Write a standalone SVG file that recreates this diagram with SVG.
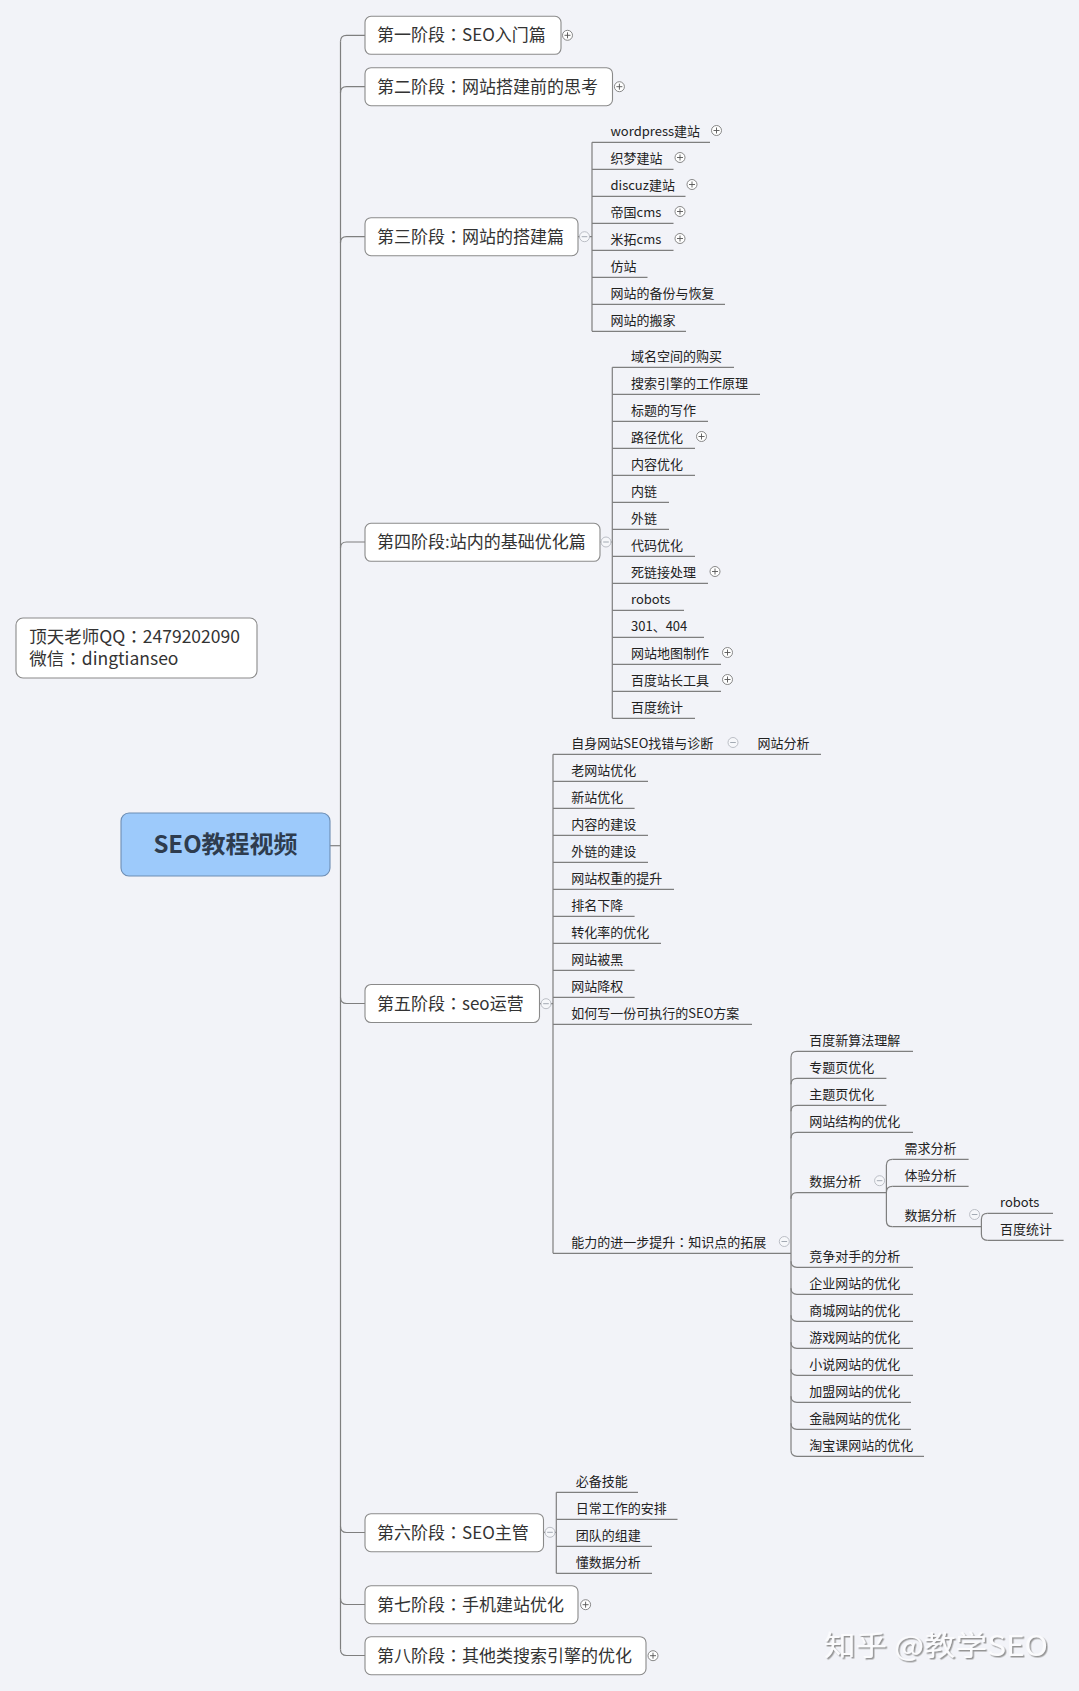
<svg xmlns="http://www.w3.org/2000/svg" width="1079" height="1691" viewBox="0 0 1079 1691">
<style>
.bg{fill:#f2f3f8}
.box{fill:#fff;stroke:#8a8a8a;stroke-width:1.1}
.ln{fill:none;stroke:#7f7f7f;stroke-width:1.2}
.ul{fill:none;stroke:#7f7f7f;stroke-width:1.2}
text{font-family:"Noto Sans CJK SC","Microsoft YaHei","Noto Sans",sans-serif}
.c{font-family:"Noto Sans CJK JP","Noto Sans CJK SC",sans-serif}
.t17{font-size:17px;fill:#333}
.t13{font-size:13px;fill:#222}
.root{font-size:24px;font-weight:bold;fill:#2e3c4e}
.wm{font-size:28px;fill:#fbfbfd}
</style>
<defs>
<g id="plus"><circle r="5" fill="#fff" stroke="#7a7a7a" stroke-width="0.9"/><path d="M-3,0H3M0,-3V3" stroke="#555" stroke-width="0.9"/></g>
<g id="minus"><circle r="5" fill="#f6f7fa" stroke="#b4b8c0" stroke-width="0.9"/><path d="M-2.8,0H2.8" stroke="#9aa0aa" stroke-width="0.9"/></g>
<filter id="sh" x="-10%" y="-20%" width="130%" height="160%"><feDropShadow dx="1.5" dy="1.5" stdDeviation="0.6" flood-color="#8a8a8a" flood-opacity="0.9"/></filter>
</defs>
<rect class="bg" x="0" y="0" width="1079" height="1691"/>

<g id="connectors">
<path class="ln" d="M340.5,41.3V1649.5"/>
<path class="ln" d="M340.5,41.3Q340.5,35.3 346.5,35.3H365"/>
<path class="ln" d="M340.5,92.7Q340.5,86.7 346.5,86.7H365"/>
<path class="ln" d="M340.5,242.7Q340.5,236.7 346.5,236.7H365"/>
<path class="ln" d="M340.5,548Q340.5,542 346.5,542H365"/>
<path class="ln" d="M340.5,997.5Q340.5,1003.5 346.5,1003.5H365"/>
<path class="ln" d="M340.5,1526.5Q340.5,1532.5 346.5,1532.5H365"/>
<path class="ln" d="M340.5,1598.5Q340.5,1604.5 346.5,1604.5H365"/>
<path class="ln" d="M340.5,1649.5Q340.5,1655.5 346.5,1655.5H365"/>
<path class="ln" d="M330,845.7H340.5"/>
<path class="ln" d="M578,236.7H592M592,142.3V331.3"/>
<path class="ln" d="M600,542H612.3M612.3,367.3V718.3"/>
<path class="ln" d="M539.5,1003.7H553M553,754.3V1253.3"/>
<path class="ln" d="M791,1057.3V1450.3"/>
<path class="ln" d="M791,1057.3Q791,1051.3 797,1051.3M791,1084.3Q791,1078.3 797,1078.3M791,1111.3Q791,1105.3 797,1105.3M791,1138.3Q791,1132.3 797,1132.3M791,1198.7Q791,1192.7 797,1192.7"/>
<path class="ln" d="M791,1261.3Q791,1267.3 797,1267.3M791,1288.3Q791,1294.3 797,1294.3M791,1315.3Q791,1321.3 797,1321.3M791,1342.3Q791,1348.3 797,1348.3M791,1369.3Q791,1375.3 797,1375.3M791,1396.3Q791,1402.3 797,1402.3M791,1423.3Q791,1429.3 797,1429.3M791,1450.3Q791,1456.3 797,1456.3"/>
<path class="ln" d="M886.4,1165.3V1220.7M886.4,1165.3Q886.4,1159.3 892.4,1159.3M886.4,1192.3Q886.4,1186.3 892.4,1186.3M886.4,1220.7Q886.4,1226.7 892.4,1226.7"/>
<path class="ln" d="M981.4,1219.3V1234.3M981.4,1219.3Q981.4,1213.3 987.4,1213.3M981.4,1234.3Q981.4,1240.3 987.4,1240.3"/>
<path class="ln" d="M543.5,1532.3H556.3M556.3,1492.3V1573.3"/>
</g>

<g id="root">
<rect x="121" y="813" width="209" height="63" rx="8" fill="#9dcafb" stroke="#6d8db3" stroke-width="1.1"/>
<text class="root" x="225.5" y="853" text-anchor="middle">SEO教程视频</text>
</g>

<g id="note">
<rect class="box" x="16" y="618" width="241" height="60" rx="7"/>
<text class="t17" x="29.3" y="643" style="font-size:17.5px">顶天老师QQ<tspan class="c">：</tspan>2479202090</text>
<text class="t17" x="29.3" y="665" style="font-size:17.5px">微信<tspan class="c">：</tspan>dingtianseo</text>
</g>

<g id="stage1"><rect class="box" x="365" y="16.3" width="196" height="38" rx="6"/><text class="t17" x="377" y="41.3">第一阶段<tspan class="c">：</tspan>SEO入门篇</text><use href="#plus" x="567.5" y="35.3"/></g>
<g id="stage2"><rect class="box" x="365" y="67.7" width="247.5" height="38" rx="6"/><text class="t17" x="377" y="92.7">第二阶段<tspan class="c">：</tspan>网站搭建前的思考</text><use href="#plus" x="619.4" y="86.7"/></g>
<g id="stage3"><rect class="box" x="365" y="217.7" width="213" height="38" rx="6"/><text class="t17" x="377" y="242.7">第三阶段<tspan class="c">：</tspan>网站的搭建篇</text><use href="#minus" x="584.5" y="236.7"/></g>
<g id="stage4"><rect class="box" x="365" y="523.3" width="235" height="38" rx="6"/><text class="t17" x="377" y="548">第四阶段:站内的基础优化篇</text><use href="#minus" x="606" y="542"/></g>
<g id="stage5"><rect class="box" x="365" y="984.5" width="174.5" height="38" rx="6"/><text class="t17" x="377" y="1009.5">第五阶段<tspan class="c">：</tspan>seo运营</text><use href="#minus" x="546" y="1003.7"/></g>
<g id="stage6"><rect class="box" x="365" y="1513.7" width="178.5" height="38" rx="6"/><text class="t17" x="377" y="1538.5">第六阶段<tspan class="c">：</tspan>SEO主管</text><use href="#minus" x="550" y="1532.3"/></g>
<g id="stage7"><rect class="box" x="365" y="1585.7" width="213" height="38" rx="6"/><text class="t17" x="377" y="1610.5">第七阶段<tspan class="c">：</tspan>手机建站优化</text><use href="#plus" x="585.6" y="1604.7"/></g>
<g id="stage8"><rect class="box" x="365" y="1636.7" width="281" height="38" rx="6"/><text class="t17" x="377" y="1661.5">第八阶段<tspan class="c">：</tspan>其他类搜索引擎的优化</text><use href="#plus" x="653" y="1655.7"/></g>

<g id="s3c1"><path class="ul" d="M592,142.3H710"/><text class="t13" x="610.5" y="135.5">wordpress建站</text><use href="#plus" x="716.5" y="130.5"/></g>
<g id="s3c2"><path class="ul" d="M592,169.3H673.5"/><text class="t13" x="610.5" y="162.5">织梦建站</text><use href="#plus" x="680" y="157.5"/></g>
<g id="s3c3"><path class="ul" d="M592,196.3H685.5"/><text class="t13" x="610.5" y="189.5">discuz建站</text><use href="#plus" x="692" y="184.5"/></g>
<g id="s3c4"><path class="ul" d="M592,223.3H673.5"/><text class="t13" x="610.5" y="216.5">帝国cms</text><use href="#plus" x="680" y="211.5"/></g>
<g id="s3c5"><path class="ul" d="M592,250.3H673.5"/><text class="t13" x="610.5" y="243.5">米拓cms</text><use href="#plus" x="680" y="238.5"/></g>
<g id="s3c6"><path class="ul" d="M592,277.3H647.5"/><text class="t13" x="610.5" y="270.5">仿站</text></g>
<g id="s3c7"><path class="ul" d="M592,304.3H725"/><text class="t13" x="610.5" y="297.5">网站的备份与恢复</text></g>
<g id="s3c8"><path class="ul" d="M592,331.3H686"/><text class="t13" x="610.5" y="324.5">网站的搬家</text></g>

<g id="s4c1"><path class="ul" d="M612.3,367.3H734"/><text class="t13" x="631" y="360.5">域名空间的购买</text></g>
<g id="s4c2"><path class="ul" d="M612.3,394.3H760"/><text class="t13" x="631" y="387.5">搜索引擎的工作原理</text></g>
<g id="s4c3"><path class="ul" d="M612.3,421.3H708"/><text class="t13" x="631" y="414.5">标题的写作</text></g>
<g id="s4c4"><path class="ul" d="M612.3,448.3H695"/><text class="t13" x="631" y="441.5">路径优化</text><use href="#plus" x="701.5" y="436.5"/></g>
<g id="s4c5"><path class="ul" d="M612.3,475.3H695"/><text class="t13" x="631" y="468.5">内容优化</text></g>
<g id="s4c6"><path class="ul" d="M612.3,502.3H669"/><text class="t13" x="631" y="495.5">内链</text></g>
<g id="s4c7"><path class="ul" d="M612.3,529.3H669"/><text class="t13" x="631" y="522.5">外链</text></g>
<g id="s4c8"><path class="ul" d="M612.3,556.3H695"/><text class="t13" x="631" y="549.5">代码优化</text></g>
<g id="s4c9"><path class="ul" d="M612.3,583.3H708"/><text class="t13" x="631" y="576.5">死链接处理</text><use href="#plus" x="715" y="571.5"/></g>
<g id="s4c10"><path class="ul" d="M612.3,610.3H684"/><text class="t13" x="631" y="603.5">robots</text></g>
<g id="s4c11"><path class="ul" d="M612.3,637.3H704"/><text class="t13" x="631" y="630.5">301、404</text></g>
<g id="s4c12"><path class="ul" d="M612.3,664.3H721"/><text class="t13" x="631" y="657.5">网站地图制作</text><use href="#plus" x="727.5" y="652.5"/></g>
<g id="s4c13"><path class="ul" d="M612.3,691.3H721"/><text class="t13" x="631" y="684.5">百度站长工具</text><use href="#plus" x="727.5" y="679.5"/></g>
<g id="s4c14"><path class="ul" d="M612.3,718.3H695"/><text class="t13" x="631" y="711.5">百度统计</text></g>

<g id="s5c1"><path class="ul" d="M553,754.3H821"/><text class="t13" x="571.3" y="747.5">自身网站SEO找错与诊断</text><use href="#minus" x="733" y="742.5"/></g>
<g id="s5c1a"><text class="t13" x="757.5" y="747.5">网站分析</text></g>
<g id="s5c2"><path class="ul" d="M553,781.3H648"/><text class="t13" x="571.3" y="774.5">老网站优化</text></g>
<g id="s5c3"><path class="ul" d="M553,808.3H634.6"/><text class="t13" x="571.3" y="801.5">新站优化</text></g>
<g id="s5c4"><path class="ul" d="M553,835.3H648"/><text class="t13" x="571.3" y="828.5">内容的建设</text></g>
<g id="s5c5"><path class="ul" d="M553,862.3H648"/><text class="t13" x="571.3" y="855.5">外链的建设</text></g>
<g id="s5c6"><path class="ul" d="M553,889.3H674"/><text class="t13" x="571.3" y="882.5">网站权重的提升</text></g>
<g id="s5c7"><path class="ul" d="M553,916.3H634.6"/><text class="t13" x="571.3" y="909.5">排名下降</text></g>
<g id="s5c8"><path class="ul" d="M553,943.3H661"/><text class="t13" x="571.3" y="936.5">转化率的优化</text></g>
<g id="s5c9"><path class="ul" d="M553,970.3H634.6"/><text class="t13" x="571.3" y="963.5">网站被黑</text></g>
<g id="s5c10"><path class="ul" d="M553,997.3H634.6"/><text class="t13" x="571.3" y="990.5">网站降权</text></g>
<g id="s5c11"><path class="ul" d="M553,1024.3H752"/><text class="t13" x="571.3" y="1017.5">如何写一份可执行的SEO方案</text></g>
<g id="s5c12"><path class="ul" d="M553,1253.3H791"/><text class="t13" x="571.3" y="1246.5">能力的进一步提升<tspan class="c">：</tspan>知识点的拓展</text><use href="#minus" x="784.3" y="1241.5"/></g>

<g id="a1"><path class="ul" d="M797,1051.3H913"/><text class="t13" x="809.3" y="1044.5">百度新算法理解</text></g>
<g id="a2"><path class="ul" d="M797,1078.3H886.4"/><text class="t13" x="809.3" y="1071.5">专题页优化</text></g>
<g id="a3"><path class="ul" d="M797,1105.3H886.4"/><text class="t13" x="809.3" y="1098.5">主题页优化</text></g>
<g id="a4"><path class="ul" d="M797,1132.3H913"/><text class="t13" x="809.3" y="1125.5">网站结构的优化</text></g>
<g id="a5"><path class="ul" d="M797,1192.7H886.4"/><text class="t13" x="809.3" y="1185.9">数据分析</text><use href="#minus" x="879.6" y="1180.7"/></g>
<g id="a5c1"><path class="ul" d="M892.4,1159.3H968.6"/><text class="t13" x="904.6" y="1152.5">需求分析</text></g>
<g id="a5c2"><path class="ul" d="M892.4,1186.3H968.6"/><text class="t13" x="904.6" y="1179.5">体验分析</text></g>
<g id="a5c3"><path class="ul" d="M892.4,1226.7H981.4"/><text class="t13" x="904.6" y="1219.9">数据分析</text><use href="#minus" x="974.6" y="1214.5"/></g>
<g id="a5c3a"><path class="ul" d="M987.4,1213.3H1053"/><text class="t13" x="1000" y="1206.5">robots</text></g>
<g id="a5c3b"><path class="ul" d="M987.4,1240.3H1063.6"/><text class="t13" x="1000" y="1233.5">百度统计</text></g>
<g id="a6"><path class="ul" d="M797,1267.3H913"/><text class="t13" x="809.3" y="1260.5">竞争对手的分析</text></g>
<g id="a7"><path class="ul" d="M797,1294.3H913"/><text class="t13" x="809.3" y="1287.5">企业网站的优化</text></g>
<g id="a8"><path class="ul" d="M797,1321.3H913"/><text class="t13" x="809.3" y="1314.5">商城网站的优化</text></g>
<g id="a9"><path class="ul" d="M797,1348.3H913"/><text class="t13" x="809.3" y="1341.5">游戏网站的优化</text></g>
<g id="a10"><path class="ul" d="M797,1375.3H913"/><text class="t13" x="809.3" y="1368.5">小说网站的优化</text></g>
<g id="a11"><path class="ul" d="M797,1402.3H911"/><text class="t13" x="809.3" y="1395.5">加盟网站的优化</text></g>
<g id="a12"><path class="ul" d="M797,1429.3H911"/><text class="t13" x="809.3" y="1422.5">金融网站的优化</text></g>
<g id="a13"><path class="ul" d="M797,1456.3H924"/><text class="t13" x="809.3" y="1449.5">淘宝课网站的优化</text></g>

<g id="s6c1"><path class="ul" d="M556.3,1492.3H638"/><text class="t13" x="575.7" y="1485.5">必备技能</text></g>
<g id="s6c2"><path class="ul" d="M556.3,1519.3H677.5"/><text class="t13" x="575.7" y="1512.5">日常工作的安排</text></g>
<g id="s6c3"><path class="ul" d="M556.3,1546.3H652"/><text class="t13" x="575.7" y="1539.5">团队的组建</text></g>
<g id="s6c4"><path class="ul" d="M556.3,1573.3H652"/><text class="t13" x="575.7" y="1566.5">懂数据分析</text></g>

<g id="watermark"><text class="wm" x="824" y="1656" filter="url(#sh)" textLength="224" lengthAdjust="spacingAndGlyphs">知乎 @教学SEO</text></g>
</svg>
